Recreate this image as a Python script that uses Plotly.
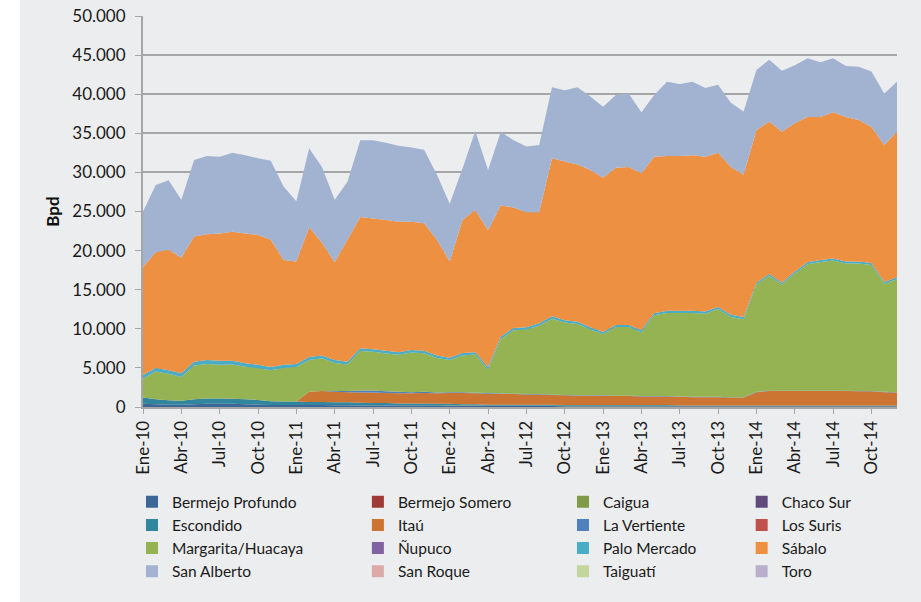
import plotly.graph_objects as go

# meses Ene-10 .. Dic-14
nombres_mes = ["Ene", "Feb", "Mar", "Abr", "May", "Jun", "Jul", "Ago", "Sep", "Oct", "Nov", "Dic"]
meses = [f"{m}-{a}" for a in range(10, 15) for m in nombres_mes]
etiquetas_x = meses[::3]

# produccion por campo (Bpd), una fila por anio
bermejo_profundo = [400, 350, 300, 300, 350, 400, 400, 400, 350, 300, 250, 250,
                    250, 250, 250, 220, 220, 200, 200, 200, 180, 180, 180, 160,
                    160, 150, 150, 120, 120, 120, 120, 120, 120, 100, 100, 100,
                    100, 100, 100, 100, 100, 100, 80, 80, 80, 80, 80, 80,
                    80, 80, 80, 80, 80, 80, 80, 80, 80, 80, 80, 80]
caigua = [0, 0, 0, 0, 0, 0, 0, 0, 0, 0, 0, 0,
          0, 0, 0, 0, 0, 0, 0, 0, 0, 0, 0, 0,
          50, 50, 50, 50, 50, 50, 50, 50, 50, 50, 50, 50,
          50, 50, 50, 50, 50, 50, 50, 50, 50, 50, 50, 50,
          50, 50, 50, 50, 50, 50, 50, 50, 50, 50, 50, 50]
escondido = [800, 650, 550, 500, 650, 700, 700, 650, 650, 600, 500, 450,
             450, 400, 400, 380, 380, 350, 300, 300, 270, 270, 270, 240,
             190, 150, 150, 130, 130, 130, 130, 130, 130, 100, 100, 100,
             100, 100, 100, 100, 100, 100, 70, 70, 70, 70, 70, 70,
             70, 70, 70, 70, 70, 70, 70, 70, 70, 70, 70, 70]
itau = [0, 0, 0, 0, 0, 0, 0, 0, 0, 0, 0, 0,
        0, 1300, 1400, 1350, 1300, 1300, 1350, 1300, 1300, 1300, 1350, 1350,
        1400, 1450, 1400, 1400, 1350, 1350, 1300, 1300, 1250, 1250, 1200, 1200,
        1200, 1150, 1150, 1100, 1100, 1100, 1100, 1050, 1050, 1050, 1000, 1000,
        1700, 1850, 1850, 1850, 1850, 1850, 1850, 1850, 1800, 1800, 1700, 1650]
la_vertiente = [0, 0, 0, 0, 0, 0, 0, 0, 0, 0, 0, 0,
                0, 0, 0, 100, 150, 250, 250, 200, 200, 150, 150, 120,
                100, 100, 80, 80, 80, 60, 60, 60, 50, 50, 50, 50,
                50, 50, 50, 50, 50, 50, 50, 50, 50, 50, 50, 50,
                40, 40, 40, 40, 40, 40, 40, 40, 40, 40, 40, 40]
margarita = [2450, 3550, 3400, 3050, 4300, 4400, 4300, 4400, 4150, 4050, 3950, 4300,
             4400, 4050, 4170, 3570, 3400, 5050, 4950, 4850, 4720, 5070, 4920, 4410,
             4100, 4700, 4870, 3020, 6970, 8090, 8240, 8740, 9700, 9250, 9100, 8400,
             7820, 8770, 8770, 8120, 10320, 10620, 10670, 10720, 10620, 11220, 10270, 9970,
             13710, 14660, 13560, 14960, 16160, 16460, 16660, 16260, 16310, 16110, 13810, 14460]
palo_mercado = [450, 450, 450, 450, 500, 500, 500, 450, 450, 450, 400, 400,
                400, 400, 380, 380, 350, 350, 350, 350, 330, 330, 330, 320,
                300, 300, 300, 300, 300, 300, 300, 300, 300, 300, 300, 300,
                280, 280, 280, 280, 280, 280, 280, 280, 280, 280, 280, 280,
                250, 250, 250, 250, 250, 250, 250, 250, 250, 250, 250, 250]
sabalo = [13800, 14800, 15400, 14800, 16000, 16100, 16300, 16500, 16600, 16600, 16300, 13400,
          13100, 16600, 14400, 12500, 15600, 16800, 16700, 16700, 16700, 16400, 16300, 14800,
          12300, 17000, 18200, 17500, 16800, 15400, 14700, 14200, 20200, 20300, 20100, 20100,
          19700, 20100, 20200, 20100, 20000, 19800, 19800, 19900, 19800, 19700, 18900, 18200,
          19500, 19500, 19300, 19000, 18600, 18300, 18700, 18500, 18100, 17400, 17500, 18600]
san_alberto = [7100, 8600, 8900, 7400, 9800, 10000, 9800, 10100, 10000, 9800, 10100, 9400,
               7700, 10100, 9700, 8000, 7400, 9800, 10000, 9900, 9700, 9500, 9400, 8300,
               7400, 6600, 10100, 7700, 9400, 8600, 8400, 8600, 9100, 9100, 9900, 9400,
               9100, 9300, 9400, 7800, 7900, 9500, 9200, 9400, 8800, 8700, 8200, 8100,
               7700, 7900, 7800, 7400, 7500, 7000, 6900, 6500, 6800, 7100, 6600, 6400]

campos = ["Bermejo Profundo", "Bermejo Somero", "Caigua", "Chaco Sur",
          "Escondido", "Itaú", "La Vertiente", "Los Suris",
          "Margarita/Huacaya", "Ñupuco", "Palo Mercado", "Sábalo",
          "San Alberto", "San Roque", "Taiguatí", "Toro"]
colores = ["#3D6698", "#9E3A38", "#7F9A48", "#604A7B",
           "#31859C", "#CC7432", "#4F81BD", "#C0504D",
           "#95B353", "#8064A2", "#4BACC6", "#EE9042",
           "#A2B3D2", "#DDAAA9", "#C3D69B", "#B9AECB"]
# campos con produccion en el grafico (los demas quedan solo en la leyenda)
series = {
    "Bermejo Profundo": bermejo_profundo,
    "Caigua": caigua,
    "Escondido": escondido,
    "Itaú": itau,
    "La Vertiente": la_vertiente,
    "Margarita/Huacaya": margarita,
    "Palo Mercado": palo_mercado,
    "Sábalo": sabalo,
    "San Alberto": san_alberto,
}

fig = go.Figure()

for nombre, color in zip(campos, colores):
    if nombre in series:
        fig.add_trace(go.Scatter(x=meses, y=series[nombre], name=nombre,
                                 stackgroup="uno", mode="none",
                                 fillcolor=color, line=dict(width=0),
                                 showlegend=False))

# leyenda en 4 columnas con cuadritos
leyendas = ["legend", "legend2", "legend3", "legend4"]
for i, (nombre, color) in enumerate(zip(campos, colores)):
    fig.add_trace(go.Scatter(x=[None], y=[None], name=nombre, mode="markers",
                             marker=dict(symbol="square", size=12, color=color),
                             legend=leyendas[i % 4]))

fuente = dict(family="Lato", size=17, color="#1a1a1a")
x_col = [-0.0146, 0.285, 0.557, 0.794]
ley = {}
for k, nom in enumerate(leyendas):
    ley[nom] = dict(x=x_col[k], y=-0.2, xanchor="left", yanchor="top",
                    orientation="v", traceorder="normal",
                    bgcolor="rgba(0,0,0,0)", itemwidth=30,
                    font=dict(family="Lato", size=15.5, color="#1a1a1a"))

fig.update_layout(
    width=921, height=602,
    margin=dict(l=143, r=24, t=16, b=195),
    paper_bgcolor="#FFFFFF",
    plot_bgcolor="#F9F9F9",
    separators=",.",
    font=fuente,
    shapes=[dict(type="rect", xref="paper", yref="paper", layer="below",
                 x0=-0.163, x1=1.04, y0=-0.52, y1=1.05,
                 fillcolor="#ECEDEE", line=dict(width=0))],
    **ley,
)

fig.update_xaxes(type="category", range=[0, 59], automargin=False,
                 tickmode="array", tickvals=etiquetas_x, ticktext=etiquetas_x,
                 tickangle=-90, ticks="outside", ticklen=5, tickcolor="#A6A6A6",
                 showline=True, linecolor="#A6A6A6", linewidth=2,
                 showgrid=False, tickfont=fuente)
fig.update_yaxes(range=[0, 50000], dtick=5000, tickformat=",", automargin=False,
                 showline=True, linecolor="#A6A6A6", linewidth=2,
                 ticks="outside", ticklen=6, tickcolor="#A6A6A6",
                 gridcolor="#A6A6A6", gridwidth=1.5, zeroline=False,
                 tickfont=fuente, ticklabelstandoff=6,
                 title=dict(text="<b>Bpd</b>", standoff=8,
                            font=dict(family="Lato", size=17, color="#111111")))

fig.write_html("out.html", config={"displayModeBar": False},
               post_script="document.body.style.margin='0';")
